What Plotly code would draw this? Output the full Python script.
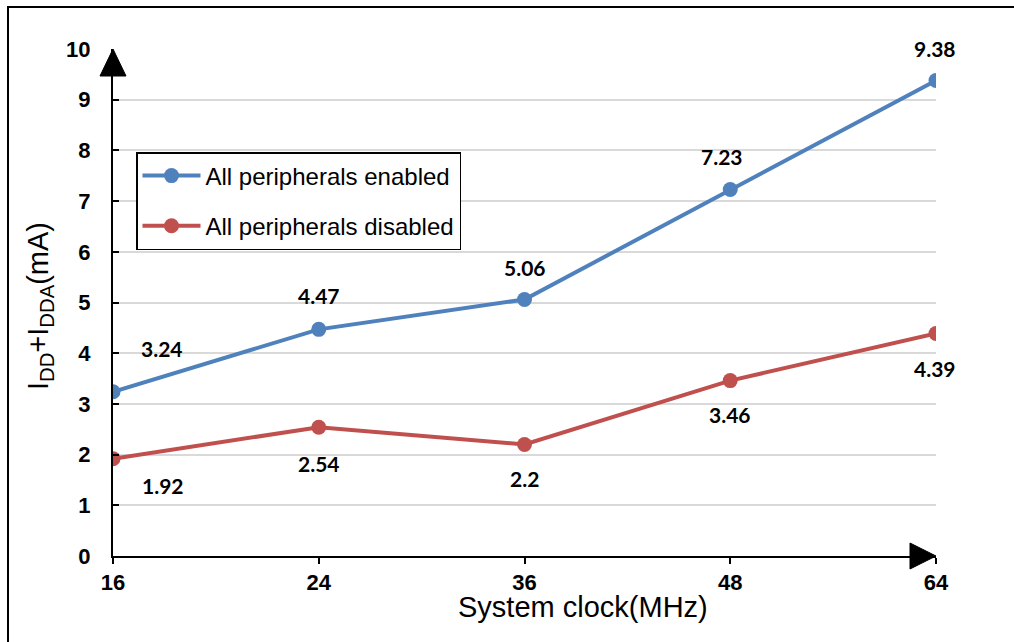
import plotly.graph_objects as go

# ---- data ----
clock = ["16", "24", "36", "48", "64"]
enabled = [3.24, 4.47, 5.06, 7.23, 9.38]
disabled = [1.92, 2.54, 2.2, 3.46, 4.39]
enabled_labels = ["3.24", "4.47", "5.06", "7.23", "9.38"]
disabled_labels = ["1.92", "2.54", "2.2", "3.46", "4.39"]
y_ticks = list(range(0, 11))

# ---- style (label offsets in pixels) ----
en_off = [(49, 43), (0, 34), (0, 32), (-8, 33), (-1, 32)]
dis_off = [(50, -27), (0, -36), (0, -34), (0, -34), (-1, -35)]

W, H = 1014, 642
ML, MR, MT, MB = 113, 78, 49, 86
PW, PH = W - ML - MR, H - MT - MB


def px(x):
    return (x - ML) / PW


def py(y):
    return (H - MB - y) / PH


BLUE = "#4f81bd"
RED = "#c0504d"

fig = go.Figure()
fig.add_trace(go.Scatter(
    x=clock, y=enabled, mode="lines+markers", name="All peripherals enabled",
    line=dict(color=BLUE, width=4), marker=dict(size=15, color=BLUE),
    legendgroup="a"))
fig.add_trace(go.Scatter(
    x=clock, y=disabled, mode="lines+markers", name="All peripherals disabled",
    line=dict(color=RED, width=4), marker=dict(size=15, color=RED),
    legendgroup="b"))

annos = []
lab_font = dict(family="Lato", size=21, color="black", weight="bold")
for i, (v, t, (dx, dy)) in enumerate(zip(enabled, enabled_labels, en_off)):
    annos.append(dict(x=i, y=v, xref="x", yref="y", text=t, showarrow=False,
                      xshift=dx, yshift=dy, xanchor="center", yanchor="middle", font=lab_font))
for i, (v, t, (dx, dy)) in enumerate(zip(disabled, disabled_labels, dis_off)):
    annos.append(dict(x=i, y=v, xref="x", yref="y", text=t, showarrow=False,
                      xshift=dx, yshift=dy, xanchor="center", yanchor="middle", font=lab_font))

annos.append(dict(xref="paper", yref="paper", x=px(583), y=py(607), text="System clock(MHz)",
                  xanchor="center", yanchor="middle",
                  showarrow=False, font=dict(family="Arial", size=29, color="black")))
annos.append(dict(xref="paper", yref="paper", x=px(40), y=py(306),
                  text="I<sub>DD</sub>+I<sub>DDA</sub>(mA)", textangle=-90,
                  xanchor="center", yanchor="middle",
                  showarrow=False, font=dict(family="Arial", size=29, color="black")))

shapes = [
    dict(type="path", xref="paper", yref="paper", xsizemode="pixel", ysizemode="pixel",
         xanchor=0, yanchor=1, path="M -13,-27 L 13,-27 L 0,0 Z",
         fillcolor="black", line=dict(color="black", width=1)),
    dict(type="path", xref="paper", yref="paper", xsizemode="pixel", ysizemode="pixel",
         xanchor=1, yanchor=0, path="M -26,13 L -26,-13 L 0,0 Z",
         fillcolor="black", line=dict(color="black", width=1)),
    dict(type="rect", xref="paper", yref="paper", x0=px(8), x1=px(1030), y0=py(660), y1=py(7),
         line=dict(color="black", width=2), fillcolor="rgba(0,0,0,0)"),
]

fig.update_layout(
    width=W, height=H,
    margin=dict(l=ML, r=MR, t=MT, b=MB),
    plot_bgcolor="white", paper_bgcolor="white",
    font=dict(family="Arial", color="black"),
    showlegend=True,
    legend=dict(x=px(136), y=py(152), xanchor="left", yanchor="top",
                bordercolor="black", borderwidth=1.5, bgcolor="white",
                font=dict(family="Arial", size=24, color="black"),
                itemwidth=58, tracegroupgap=16),
    xaxis=dict(type="category", range=[0, 4], showline=True, linecolor="black", linewidth=2,
               ticks="outside", ticklen=6, tickwidth=1.5, tickcolor="black",
               showgrid=False, zeroline=False,
               tickfont=dict(family="Arial", size=22, color="black", weight="bold")),
    yaxis=dict(range=[0, 10], tickvals=y_ticks, showline=True, linecolor="black", linewidth=2,
               ticks="inside", ticklen=6, tickwidth=1.5, tickcolor="black",
               showgrid=True, gridcolor="#d9d9d9", gridwidth=1.5, zeroline=False,
               ticklabelstandoff=16,
               tickfont=dict(family="Arial", size=22, color="black", weight="bold")),
    annotations=annos,
    shapes=shapes,
)

fig.write_html("out.html", config={"displayModeBar": False},
               post_script="document.body.style.margin='0px';")
